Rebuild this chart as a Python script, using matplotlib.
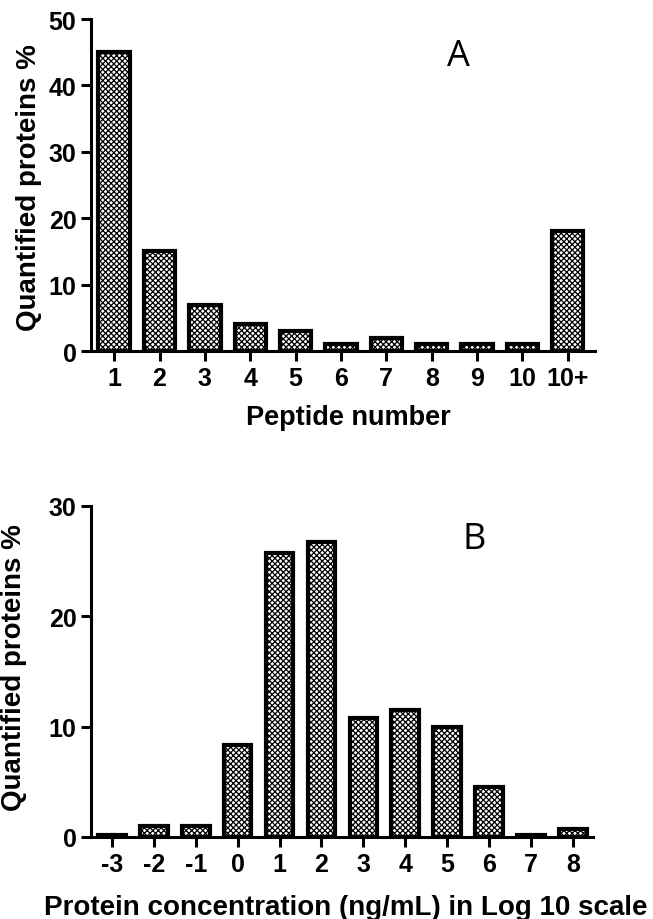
import matplotlib
matplotlib.use("Agg")
import matplotlib.pyplot as plt

# ---- data ----
peptide_labels = ["1", "2", "3", "4", "5", "6", "7", "8", "9", "10", "10+"]
peptide_values = [45.0, 15.0, 7.0, 4.0, 3.0, 1.0, 2.0, 1.0, 1.0, 1.0, 18.0]

conc_labels = ["-3", "-2", "-1", "0", "1", "2", "3", "4", "5", "6", "7", "8"]
conc_values = [0.2, 1.0, 1.0, 8.3, 25.7, 26.7, 10.8, 11.5, 10.0, 4.5, 0.2, 0.7]

plt.rcParams["font.family"] = ["Liberation Sans", "DejaVu Sans"]
plt.rcParams["hatch.linewidth"] = 0.9

W, H = 653, 920
fig = plt.figure(figsize=(W / 100, H / 100), dpi=100)


def px_axes(left, right, top, bottom):
    return fig.add_axes([left / W, (H - bottom) / H, (right - left) / W, (bottom - top) / H])


def style(ax):
    for s in ["top", "right"]:
        ax.spines[s].set_visible(False)
    for s in ["left", "bottom"]:
        ax.spines[s].set_linewidth(2.2)
    ax.tick_params(axis="both", direction="out", length=7.5, width=2.2, labelsize=18)
    ax.tick_params(axis="x", pad=3)
    ax.tick_params(axis="y", pad=3)
    for lab in ax.get_xticklabels() + ax.get_yticklabels():
        lab.set_fontweight("bold")


def bars(ax, labels, values, width):
    x = list(range(len(labels)))
    ax.bar(x, values, width=width, facecolor="white", edgecolor="black",
           linewidth=3.0, hatch="xxxxxx")
    ax.set_xticks(x)
    ax.set_xticklabels(labels)


def rot_label(x, y, text):
    fig.text(x / W, 1 - y / H, text, rotation=90, rotation_mode="anchor",
             ha="center", va="baseline", fontsize=20, fontweight="bold")


# ---- panel A ----
axA = px_axes(91, 595, 20, 352)
bars(axA, peptide_labels, peptide_values, 0.69)
axA.set_xlim(-0.51, 10.6)
axA.set_ylim(0, 50)
axA.set_yticks([0, 10, 20, 30, 40, 50])
style(axA)
rot_label(36, 188, "Quantified proteins %")
fig.text(348 / W, 1 - 425 / H, "Peptide number", ha="center", va="baseline",
         fontsize=19.5, fontweight="bold")
fig.text(458 / W, 1 - 57 / H, "A", ha="center", va="center", fontsize=26,
         family=["Open Sans", "DejaVu Sans"])

# ---- panel B ----
axB = px_axes(91, 593, 507, 838)
bars(axB, conc_labels, conc_values, 0.66)
axB.set_xlim(-0.5, 11.48)
axB.set_ylim(0, 30)
axB.set_yticks([0, 10, 20, 30])
style(axB)
rot_label(21, 668, "Quantified proteins %")
fig.text(346 / W, 1 - 915 / H, "Protein concentration (ng/mL) in Log 10 scale",
         ha="center", va="baseline", fontsize=20, fontweight="bold")
fig.text(474 / W, 1 - 540 / H, "B", ha="center", va="center", fontsize=26,
         family=["Open Sans", "DejaVu Sans"])

fig.savefig("out.png", dpi=100)
